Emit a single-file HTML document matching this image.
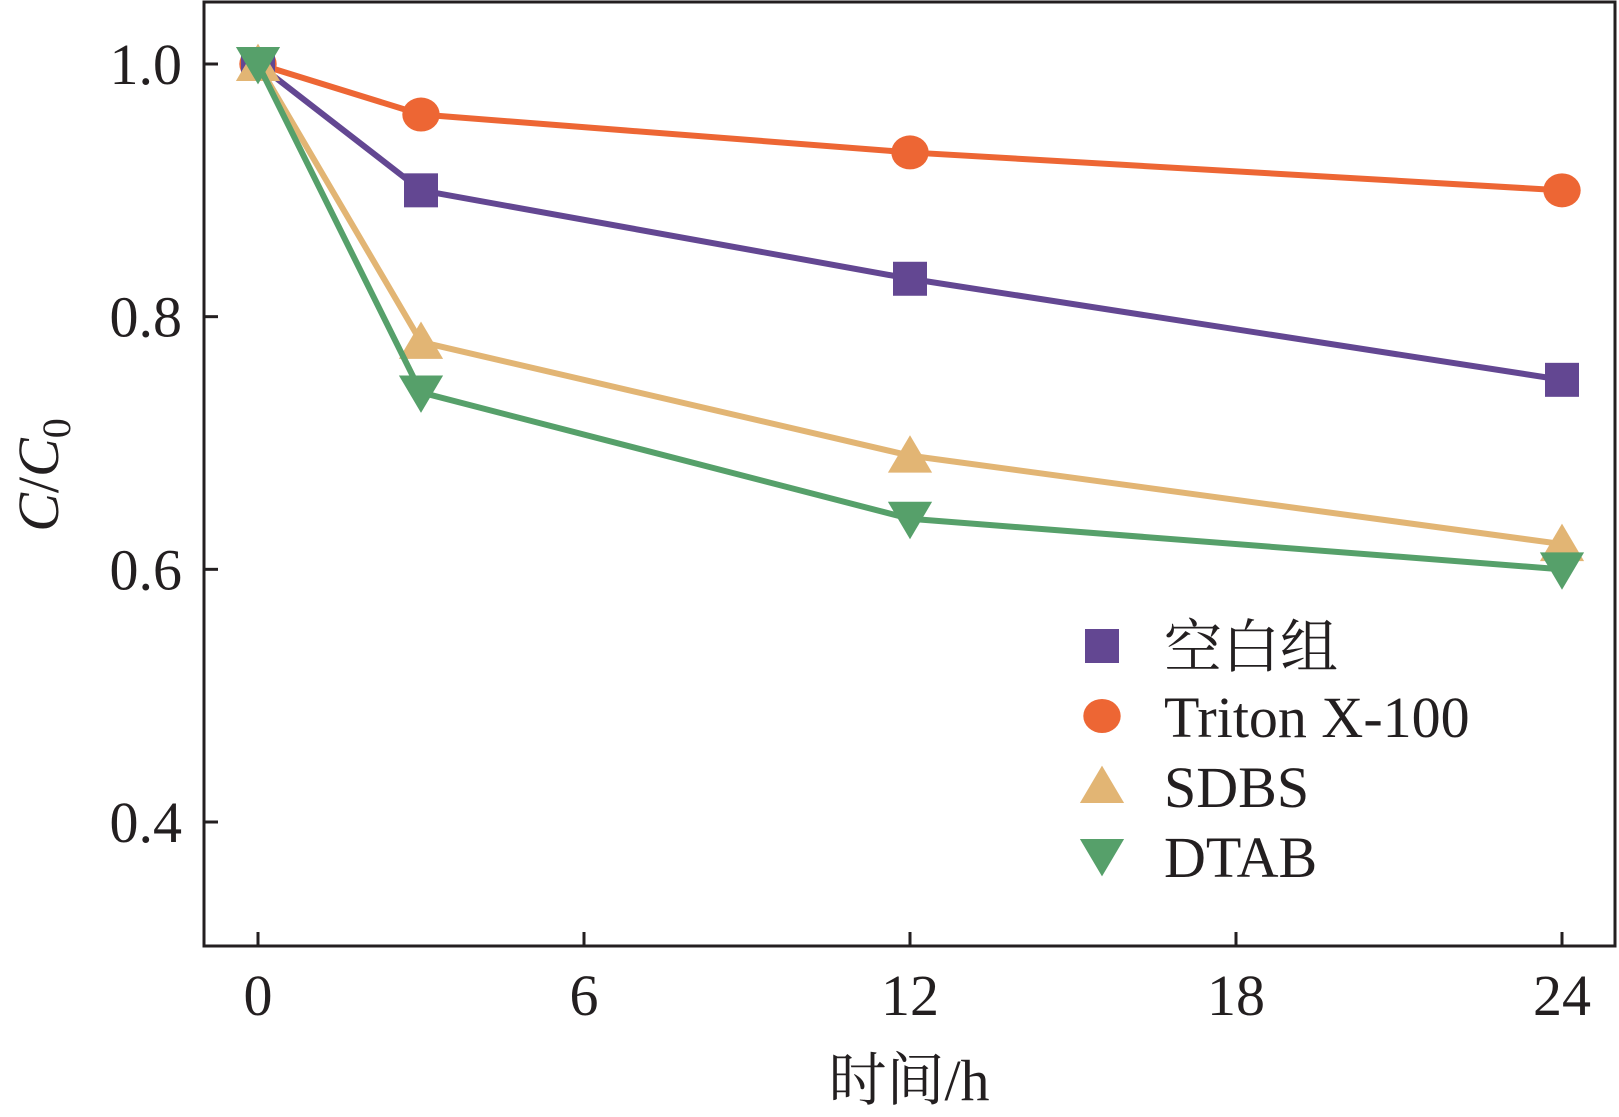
<!DOCTYPE html>
<html><head><meta charset="utf-8"><style>
html,body{margin:0;padding:0;background:#fff;}
svg{display:block;}
text{font-family:"Liberation Serif","Noto Serif CJK SC",serif;fill:#231f20;}
</style></head><body>
<svg id="chart" width="1619" height="1117"></svg>
<script>
const xValues=[0,3,12,24];
const blankSeries=[1.0,0.90,0.83,0.75];
const tritonSeries=[1.0,0.96,0.93,0.90];
const sdbsSeries=[1.0,0.78,0.69,0.62];
const dtabSeries=[1.0,0.74,0.64,0.60];
const xTicks=[0,6,12,18,24];
const yTicks=[0.4,0.6,0.8,1.0];
const seriesNames=["空白组","Triton X-100","SDBS","DTAB"];

const NS="http://www.w3.org/2000/svg";
const svg=document.getElementById('chart');
const L=204,R=1615,T=2,B=946;
function sx(v){return 258+(v-0)*(1562-258)/24;}
function sy(v){return 822-(v-0.4)*(822-64)/0.6;}
function mk(tag,attrs,parent){const e=document.createElementNS(NS,tag);for(const k in attrs)e.setAttribute(k,attrs[k]);(parent||svg).appendChild(e);return e;}

const frame=mk('rect',{x:L,y:T,width:R-L,height:B-T,fill:'none',stroke:'#231f20','stroke-width':3});



xTicks.forEach(t=>{
  const l=mk('line',{x1:sx(t),x2:sx(t),y1:B,y2:B-14,stroke:'#231f20','stroke-width':3});
  
  
  const tx=mk('text',{x:sx(t),y:1015,'font-size':58,'text-anchor':'middle'});
  tx.textContent=t;
  
  
});
yTicks.forEach(t=>{
  const l=mk('line',{x1:L,x2:L+14,y1:sy(t),y2:sy(t),stroke:'#231f20','stroke-width':3});
  
  
  const tx=mk('text',{x:182,y:sy(t)+20,'font-size':58,'text-anchor':'end'});
  tx.textContent=t.toFixed(1);
  
  
});

const xl=mk('text',{x:909,y:1100,'font-size':58,'text-anchor':'middle'});
xl.textContent='时间/h';


const yl=mk('text',{x:0,y:0,'font-size':58,'text-anchor':'middle',transform:'translate(58,475) rotate(-90)'});
yl.innerHTML='<tspan font-style="italic">C</tspan>/<tspan font-style="italic">C</tspan><tspan font-size="40" dy="12">0</tspan>';



function marker(type,x,y,color,s,name){
  let e;
  if(type==='square')e=mk('rect',{x:x-s,y:y-s,width:2*s,height:2*s,fill:color});
  else if(type==='circle')e=mk('ellipse',{cx:x,cy:y,rx:s*1.1,ry:s,fill:color});
  else if(type==='up')e=mk('polygon',{points:`${x-s*1.3},${y+s} ${x+s*1.3},${y+s} ${x},${y-s*1.2}`,fill:color});
  else e=mk('polygon',{points:`${x-s*1.3},${y-s} ${x+s*1.3},${y-s} ${x},${y+s*1.2}`,fill:color});
  
  
}
const series=[
 {vals:tritonSeries,color:'#ed6634',type:'circle',name:'triton'},
 {vals:blankSeries,color:'#634792',type:'square',name:'blank'},
 {vals:sdbsSeries,color:'#e2b574',type:'up',name:'sdbs'},
 {vals:dtabSeries,color:'#56a06a',type:'down',name:'dtab'}
];
series.forEach(s=>{
  const pts=s.vals.map((v,i)=>sx(xValues[i])+','+sy(v)).join(' ');
  const pl=mk('polyline',{points:pts,fill:'none',stroke:s.color,'stroke-width':6});
  
  
  s.vals.forEach((v,i)=>marker(s.type,sx(xValues[i]),sy(v),s.color,17,s.name+'-point'));
});

const legendOrder=[
 {type:'square',color:'#634792'},
 {type:'circle',color:'#ed6634'},
 {type:'up',color:'#e2b574'},
 {type:'down',color:'#56a06a'}
];
legendOrder.forEach((l,i)=>{
  const y=646+i*70;
  marker(l.type,1102,y,l.color,17,'legend-marker');
  const t=mk('text',{x:1164,y:y+21,'font-size':58});
  t.textContent=seriesNames[i];
  
  
});
</script>
</body></html>
